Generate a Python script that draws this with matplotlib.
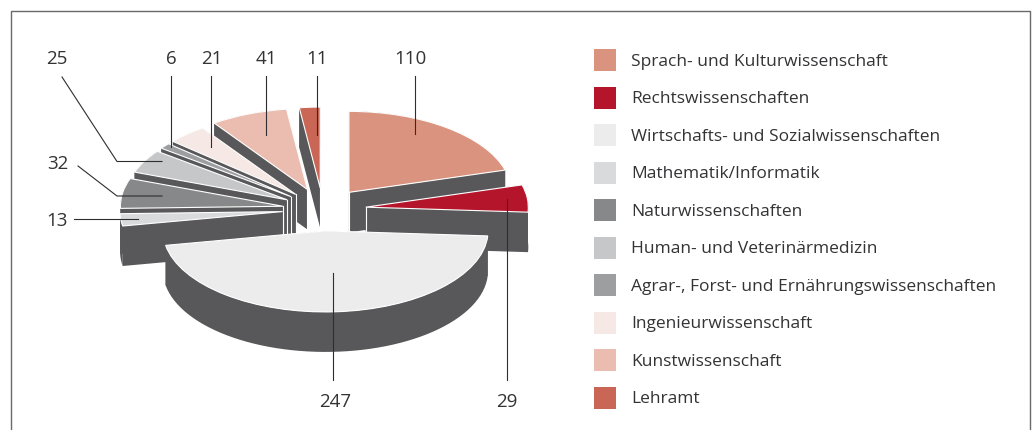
"""Exploded 3D-look pie of Wissenschaftsbereiche with legend and leader lines."""

import matplotlib

matplotlib.use("Agg")
import matplotlib.pyplot as plt
import numpy as np
from matplotlib.patches import Patch, Polygon

CATEGORIES = [
    "Sprach- und Kulturwissenschaft",
    "Rechtswissenschaften",
    "Wirtschafts- und Sozialwissenschaften",
    "Mathematik/Informatik",
    "Naturwissenschaften",
    "Human- und Veterinärmedizin",
    "Agrar-, Forst- und Ernährungswissenschaften",
    "Ingenieurwissenschaft",
    "Kunstwissenschaft",
    "Lehramt",
]
VALUES = [110, 29, 247, 13, 32, 25, 6, 21, 41, 11]
COLORS = [
    "#D9937F", "#B5152B", "#ECECEC", "#D9DADC", "#87888A",
    "#C6C7C9", "#9D9EA0", "#F6E9E5", "#EBBDB1", "#C96655",
]

SIDE_COLOR = "#58585A"
TEXT_COLOR = "#333335"
FONT = "Open Sans"

# pie placement in image pixels
WIDTH, HEIGHT = 1035, 430
CENTER_X, CENTER_Y = 323, 209.5
RADIUS_X, RADIUS_Y = 162.5, 81
DEPTH = 40 / RADIUS_Y
EXPLODE = [0.265, 0.265, 0.265, 0.25, 0.25, 0.25, 0.25, 0.25, 0.265, 0.265]

# label anchor and leader polyline per category, in image pixels
LABEL_POS = [
    (410, 59), (507, 402), (335, 402), (57, 221), (58, 164),
    (57, 59), (171, 59), (212, 59), (266, 59), (317, 59),
]
LEADERS = [
    [(415, 76), (415, 134)],
    [(507, 199), (507, 380)],
    [(333, 273), (333, 380)],
    [(74, 218.5), (138, 218.5)],
    [(78, 166), (117, 196), (162, 196)],
    [(62, 77), (117, 161.5), (162, 161.5)],
    [(171, 76), (171, 147)],
    [(211, 76), (211, 147)],
    [(266, 76), (266, 135)],
    [(317, 76), (317, 135)],
]


def side_polygons(wedge):
    """Return the dark faces that extrude one pie wedge downwards."""
    cx, cy = wedge.center
    angles = np.radians(np.linspace(wedge.theta1, wedge.theta2, 60))
    arc = np.column_stack(
        (cx + wedge.r * np.cos(angles), cy + wedge.r * np.sin(angles))
    )
    drop = np.array([0, DEPTH])
    apex = np.array([cx, cy])
    return [
        np.vstack((arc, (arc - drop)[::-1])),
        np.array([apex, arc[0], arc[0] - drop, apex - drop]),
        np.array([apex, arc[-1], arc[-1] - drop, apex - drop]),
    ]


fig = plt.figure(figsize=(WIDTH / 100, HEIGHT / 100), dpi=100)
ax = fig.add_axes([0, 0, 1, 1])
wedges, _ = ax.pie(
    VALUES,
    colors=COLORS,
    explode=EXPLODE,
    startangle=90,
    counterclock=False,
    wedgeprops={"edgecolor": "white", "linewidth": 0.8},
)
ax.set_aspect("auto")
ax.set_xlim(-CENTER_X / RADIUS_X, (WIDTH - CENTER_X) / RADIUS_X)
ax.set_ylim((CENTER_Y - HEIGHT) / RADIUS_Y, CENTER_Y / RADIUS_Y)

# back wedges first, so the ones lower on the page cover their sides
for order, wedge in enumerate(sorted(wedges, key=lambda w: -w.center[1])):
    for points in side_polygons(wedge):
        ax.add_patch(
            Polygon(points, closed=True, facecolor=SIDE_COLOR, edgecolor="none",
                    zorder=2 * order + 1)
        )
    # thin white seam down the inner corner of each slice
    cx, cy = wedge.center
    ax.plot([cx, cx], [cy, cy - DEPTH], color="white", linewidth=0.8,
            zorder=2 * order + 1)
    wedge.set_zorder(2 * order + 2)

ax.set_xlim(-CENTER_X / RADIUS_X, (WIDTH - CENTER_X) / RADIUS_X)
ax.set_ylim((CENTER_Y - HEIGHT) / RADIUS_Y, CENTER_Y / RADIUS_Y)

# overlay in image pixels for frame, leaders and value labels
overlay = fig.add_axes([0, 0, 1, 1], facecolor="none")
overlay.set_xlim(0, WIDTH)
overlay.set_ylim(HEIGHT, 0)
overlay.axis("off")
overlay.plot([11, 11, 1030, 1030], [430, 11, 11, 430], color="#6A6A6C", linewidth=1.0)

for value, (x, y), leader in zip(VALUES, LABEL_POS, LEADERS):
    xs, ys = zip(*leader)
    overlay.plot(xs, ys, color="#2E2E30", linewidth=0.8)
    overlay.text(x, y, str(value), ha="center", va="center", fontsize=13.5,
                 family=FONT, color=TEXT_COLOR)

fontsize = 12.5
fontsize_px = fontsize * 100 / 72
handles = [Patch(facecolor=color, edgecolor="none") for color in COLORS]
overlay.legend(
    handles,
    CATEGORIES,
    loc="upper left",
    bbox_to_anchor=(594 / WIDTH, 1 - 49 / HEIGHT),
    frameon=False,
    borderpad=0,
    borderaxespad=0,
    prop={"family": FONT, "size": fontsize},
    labelcolor=TEXT_COLOR,
    handlelength=22 / fontsize_px,
    handleheight=1.654 * 16.67 / fontsize_px,
    handletextpad=15 / fontsize_px,
    labelspacing=15.33 / fontsize_px,
)

fig.savefig("out.png", dpi=100)
